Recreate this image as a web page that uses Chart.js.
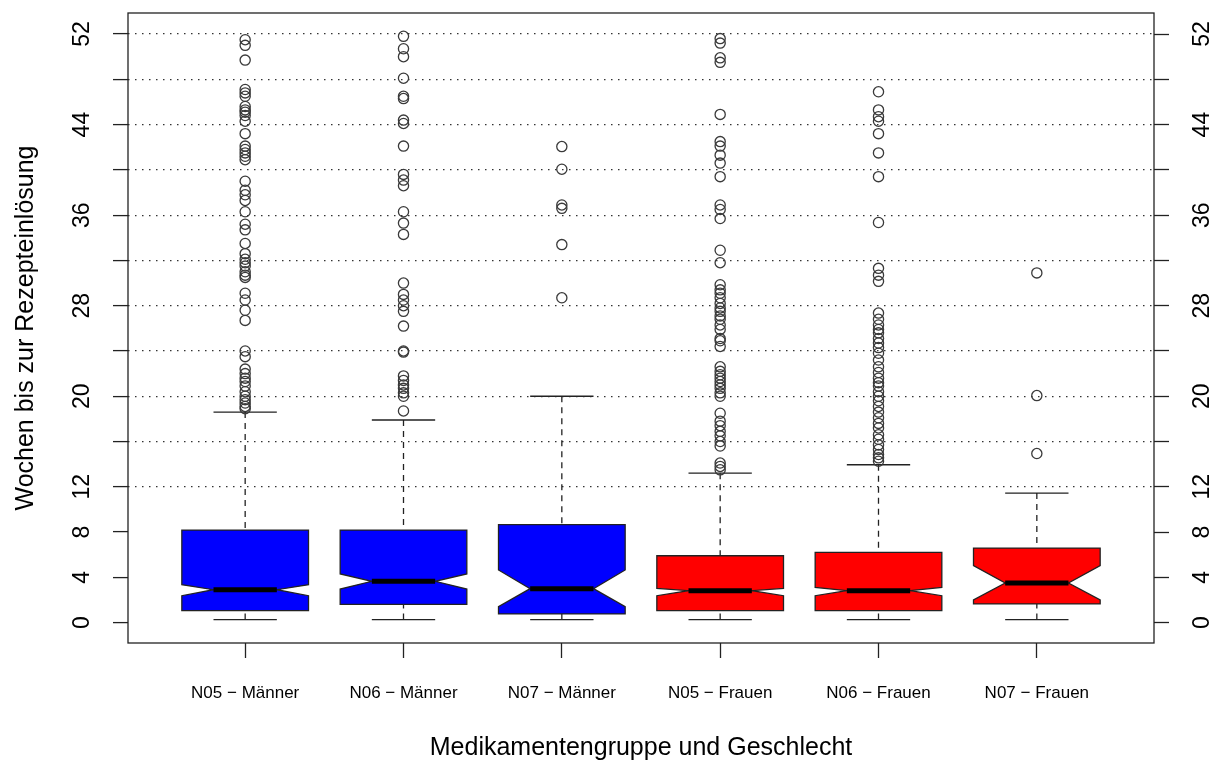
<!DOCTYPE html>
<html>
<head>
<meta charset="utf-8">
<title>Wochen bis zur Rezepteinlösung</title>
<script src="https://cdn.jsdelivr.net/npm/chart.js"></script>
<style>
    body {
        margin: 0;
        background: #fff;
    }

    #boxChart {
        display: block;
    }
</style>
</head>
<body>
<canvas id="boxChart" width="1219" height="762"></canvas>

<script>
    // groups and box statistics (weeks)
    const groups = ['N05 − Männer', 'N06 − Männer', 'N07 − Männer', 'N05 − Frauen', 'N06 − Frauen', 'N07 − Frauen'];
    const fills = ['#0000ff', '#0000ff', '#0000ff', '#ff0000', '#ff0000', '#ff0000'];
    const lowWhisker = [0.27, 0.27, 0.27, 0.27, 0.27, 0.27];
    const q1 = [1.06, 1.62, 0.77, 1.06, 1.06, 1.65];
    const median = [2.91, 3.65, 3.0, 2.82, 2.82, 3.5];
    const q3 = [8.18, 8.18, 8.65, 5.91, 6.2, 6.59];
    const highWhisker = [18.6, 17.9, 20.0, 13.2, 13.95, 11.45];
    const notchLow = [2.38, 2.97, 1.41, 2.38, 2.38, 2.0];
    const notchHigh = [3.35, 4.3, 4.65, 3.03, 3.12, 5.03];

    // outliers per group
    const outliers = [
        [51.5, 51.0, 49.7, 47.1, 46.8, 46.5, 45.6, 45.3, 45.1, 44.8, 44.3, 43.2, 42.1, 41.8, 41.5, 41.2, 40.9,
            39.0, 38.2, 37.8, 37.3, 36.3, 35.2, 34.7, 33.5, 32.6, 32.1, 31.8, 31.5, 31.0, 30.7, 30.5, 29.1, 28.5,
            27.6, 26.7, 24.0, 23.5, 22.4, 22.0, 21.6, 21.3, 20.9, 20.4, 20.0, 19.7, 19.4, 19.1, 18.9],
        [51.8, 50.7, 50.0, 48.1, 46.5, 46.3, 44.4, 44.1, 42.1, 39.6, 39.1, 38.6, 36.3, 35.3, 34.3, 30.0, 29.0,
            28.5, 28.0, 27.5, 26.2, 24.0, 23.9, 21.8, 21.4, 21.0, 20.7, 20.3, 20.0, 18.7],
        [42.06, 40.06, 36.9, 36.6, 33.4, 28.7],
        [51.6, 51.2, 49.9, 49.5, 44.9, 42.5, 42.1, 41.3, 40.6, 39.4, 36.9, 36.5, 35.7, 32.9, 31.8, 29.85, 29.4,
            29.1, 28.7, 28.2, 27.8, 27.5, 27.1, 26.8, 26.3, 25.9, 25.1, 24.9, 24.4, 22.6, 22.2, 21.9, 21.6, 21.3,
            21.0, 20.7, 20.3, 20.0, 18.5, 17.8, 17.4, 16.9, 16.5, 16.0, 15.6, 14.1, 13.8, 13.5],
        [46.9, 45.3, 44.7, 44.3, 43.2, 41.5, 39.4, 35.35, 31.3, 30.7, 30.15, 27.35, 26.8, 26.3, 25.9, 25.6, 25.1,
            24.7, 24.3, 23.8, 23.2, 22.6, 22.1, 21.6, 21.2, 20.9, 20.4, 20.0, 19.6, 19.1, 18.6, 18.1, 17.6, 17.2,
            16.6, 16.2, 15.7, 15.3, 14.85, 14.56, 14.26],
        [30.9, 20.06, 14.94]
    ];

    // axis ticks
    const yTicks = [0, 4, 8, 12, 16, 20, 24, 28, 32, 36, 40, 44, 48, 52];
    const yLabels = [0, 4, 8, 12, 20, 28, 36, 44, 52];
    const gridFrom = 12;

    const font = "'Liberation Sans', Arial, Helvetica, sans-serif";
    Chart.defaults.font.family = font;
    Chart.defaults.color = '#000';

    const points = outliers.flatMap((list, i) => list.map(v => ({ x: i + 1, y: v })));

    // notched boxes, whiskers and caps
    const boxPlugin = {
        id: 'notchedBoxes',
        beforeDatasetsDraw(chart) {
            const { ctx, scales: { x, y } } = chart;
            const unit = x.getPixelForValue(2) - x.getPixelForValue(1);
            const half = 0.4 * unit;
            const inner = 0.2 * unit;
            const py = v => y.getPixelForValue(v);

            groups.forEach((g, i) => {
                const cx = x.getPixelForValue(i + 1);
                ctx.save();
                ctx.strokeStyle = '#222';
                ctx.lineWidth = 1.3;

                ctx.setLineDash([6, 5]);
                ctx.beginPath();
                ctx.moveTo(cx, py(highWhisker[i]));
                ctx.lineTo(cx, py(q3[i]));
                ctx.moveTo(cx, py(lowWhisker[i]));
                ctx.lineTo(cx, py(q1[i]));
                ctx.stroke();

                ctx.setLineDash([]);
                ctx.beginPath();
                ctx.moveTo(cx - inner, py(highWhisker[i]));
                ctx.lineTo(cx + inner, py(highWhisker[i]));
                ctx.moveTo(cx - inner, py(lowWhisker[i]));
                ctx.lineTo(cx + inner, py(lowWhisker[i]));
                ctx.stroke();

                ctx.beginPath();
                ctx.moveTo(cx - half, py(q1[i]));
                ctx.lineTo(cx - half, py(notchLow[i]));
                ctx.lineTo(cx - inner, py(median[i]));
                ctx.lineTo(cx - half, py(notchHigh[i]));
                ctx.lineTo(cx - half, py(q3[i]));
                ctx.lineTo(cx + half, py(q3[i]));
                ctx.lineTo(cx + half, py(notchHigh[i]));
                ctx.lineTo(cx + inner, py(median[i]));
                ctx.lineTo(cx + half, py(notchLow[i]));
                ctx.lineTo(cx + half, py(q1[i]));
                ctx.closePath();
                ctx.fillStyle = fills[i];
                ctx.fill();
                ctx.stroke();

                ctx.strokeStyle = '#000';
                ctx.lineWidth = 5;
                ctx.beginPath();
                ctx.moveTo(cx - inner, py(median[i]));
                ctx.lineTo(cx + inner, py(median[i]));
                ctx.stroke();
                ctx.restore();
            });
        },
        afterDatasetsDraw(chart) {
            const { ctx, chartArea: a, scales } = chart;
            ctx.save();
            ctx.strokeStyle = '#222';
            ctx.lineWidth = 1.3;
            ctx.strokeRect(a.left, a.top, a.right - a.left, a.bottom - a.top);

            // rotated tick labels on both sides
            ctx.fillStyle = '#000';
            ctx.font = '23px ' + font;
            ctx.textAlign = 'center';
            ctx.textBaseline = 'middle';
            [[scales.y, 82], [scales.y2, 1202]].forEach(([s, lx]) => {
                yLabels.forEach(v => {
                    ctx.save();
                    ctx.translate(lx, s.getPixelForValue(v));
                    ctx.rotate(-Math.PI / 2);
                    ctx.fillText(String(v), 0, 1);
                    ctx.restore();
                });
            });
            ctx.restore();
        }
    };

    const setTicks = s => { s.ticks = yTicks.map(v => ({ value: v })); };

    new Chart(document.getElementById('boxChart'), {
        type: 'scatter',
        data: {
            datasets: [{
                data: points,
                pointRadius: 5.1,
                pointHoverRadius: 5.1,
                pointBorderWidth: 1.3,
                borderColor: '#3a3a3a',
                backgroundColor: 'rgba(0,0,0,0)'
            }]
        },
        options: {
            responsive: false,
            animation: false,
            layout: { padding: { top: 13, left: 0, right: 0, bottom: 0 } },
            plugins: {
                legend: { display: false },
                tooltip: { enabled: false }
            },
            scales: {
                x: {
                    type: 'linear',
                    min: 0.26,
                    max: 6.74,
                    afterBuildTicks: s => { s.ticks = groups.map((g, i) => ({ value: i + 1 })); },
                    afterFit: s => { s.height = 119; },
                    ticks: {
                        autoSkip: false,
                        maxRotation: 0,
                        padding: 25,
                        font: { size: 17 },
                        callback: v => groups[v - 1]
                    },
                    grid: { drawOnChartArea: false, tickLength: 15, tickColor: '#222', tickWidth: 1.3 },
                    border: { display: false },
                    title: {
                        display: true,
                        text: 'Medikamentengruppe und Geschlecht',
                        font: { size: 25, lineHeight: 1.1 },
                        padding: { top: 0, bottom: 0 }
                    }
                },
                y: {
                    position: 'left',
                    min: -1.8,
                    max: 53.86,
                    afterBuildTicks: setTicks,
                    afterFit: s => { s.width = 128; },
                    ticks: { display: false },
                    grid: {
                        color: c => (c.tick && c.tick.value >= gridFrom) ? '#333' : 'rgba(0,0,0,0)',
                        lineWidth: 1.2,
                        tickLength: 15,
                        tickColor: '#222',
                        tickWidth: 1.3,
                        tickBorderDash: []
                    },
                    border: { display: false, dash: [1.5, 5.5] },
                    title: {
                        display: true,
                        text: 'Wochen bis zur Rezepteinlösung',
                        font: { size: 25 },
                        padding: { top: 11, bottom: 0 }
                    }
                },
                y2: {
                    position: 'right',
                    min: -1.8,
                    max: 53.86,
                    afterBuildTicks: setTicks,
                    afterFit: s => { s.width = 65; },
                    ticks: { display: false },
                    grid: { drawOnChartArea: false, tickLength: 15, tickColor: '#222', tickWidth: 1.3 },
                    border: { display: false }
                }
            }
        },
        plugins: [boxPlugin]
    });
</script>
</body>
</html>
